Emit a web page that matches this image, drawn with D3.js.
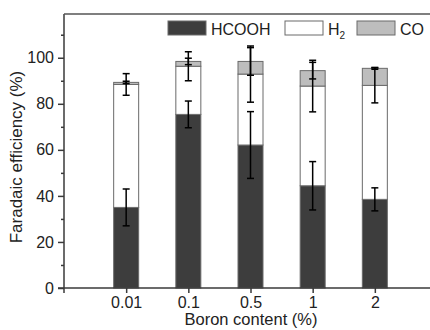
<!DOCTYPE html>
<html>
<head>
<meta charset="utf-8">
<script src="https://cdn.jsdelivr.net/npm/d3@7"></script>
<style>
body { margin: 0; background: #fff; }
svg { font-family: "Liberation Sans", Arial, sans-serif; }
</style>
</head>
<body>
<div class="visual"></div>
<script>
// data
const categories = ["0.01", "0.1", "0.5", "1", "2"];
const hcooh = [35.0, 75.4, 62.1, 44.4, 38.5];
const h2 = [53.4, 20.9, 30.8, 43.3, 49.5];
const co = [0.9, 2.1, 5.5, 6.7, 7.4];
const hcoohErr = [8.0, 5.8, 14.5, 10.5, 5.0];
const h2Err = [4.7, 6.3, 12.2, 11.2, 7.6];
const coErr = [0.5, 1.4, 6.0, 3.6, 0.4];
const yTicks = [0, 20, 40, 60, 80, 100];
const seriesNames = ["HCOOH", "H2", "CO"];

const width = 430, height = 330;
const margin = {top: 14, left: 64, bottom: 42};
const plotRight = 437;

const svg = d3.select(".visual").append("svg")
  .attr("width", width).attr("height", height);

const x = d3.scalePoint().domain(categories).range([margin.left, plotRight]).padding(1);
const y = d3.scaleLinear().domain([0, 119]).range([height - margin.bottom, margin.top]);

const colors = {HCOOH: "#3d3d3d", H2: "#ffffff", CO: "#bdbdbd"};
const barW = 25;

// stacked data
const rows = categories.map((c, i) => ({cat: c, HCOOH: hcooh[i], H2: h2[i], CO: co[i]}));
const stack = d3.stack().keys(seriesNames)(rows);
const errs = {HCOOH: hcoohErr, H2: h2Err, CO: coErr};

const layers = svg.selectAll(".layer").data(stack).enter().append("g")
  .attr("class", "layer")
  .attr("fill", d => colors[d.key]);

layers.selectAll("rect").data(d => d).enter().append("rect")
  .attr("x", d => x(d.data.cat) - barW / 2)
  .attr("width", barW)
  .attr("y", d => y(d[1]))
  .attr("height", d => y(d[0]) - y(d[1]))
  .attr("stroke", "#6a6a6a")
  .attr("stroke-width", 1);

// error bars
stack.forEach(layer => {
  const g = svg.append("g").attr("stroke", "#000").attr("stroke-width", 1.5);
  layer.forEach((d, i) => {
    const cx = x(d.data.cat), e = errs[layer.key][i];
    const lo = y(d[1] - e), hi = y(d[1] + e);
    g.append("line").attr("x1", cx).attr("x2", cx).attr("y1", lo).attr("y2", hi);
    g.append("line").attr("x1", cx - 3.5).attr("x2", cx + 3.5).attr("y1", lo).attr("y2", lo);
    g.append("line").attr("x1", cx - 3.5).attr("x2", cx + 3.5).attr("y1", hi).attr("y2", hi);
  });
});

// axes
const axisColor = "#3a3a3a";
const yAxis = svg.append("g")
  .attr("transform", "translate(" + margin.left + ",0)")
  .call(d3.axisLeft(y).tickValues(yTicks).tickSize(6).tickSizeOuter(0).tickPadding(4));
const yMinor = svg.append("g")
  .attr("transform", "translate(" + margin.left + ",0)")
  .call(d3.axisLeft(y).tickValues(d3.range(10, 120, 20)).tickSize(3).tickFormat("").tickSizeOuter(0));
yMinor.select(".domain").remove();

const xAxis = svg.append("g")
  .attr("transform", "translate(0," + y(0) + ")")
  .call(d3.axisBottom(x).tickSize(5).tickSizeOuter(0).tickPadding(4));
xAxis.select(".domain").attr("d", "M" + (margin.left - 6) + ",0H" + plotRight);

[yAxis, yMinor, xAxis].forEach(a => {
  a.selectAll("line").attr("stroke", axisColor).attr("stroke-width", 1.5);
  a.selectAll(".domain").attr("stroke", axisColor).attr("stroke-width", 1.5);
  a.selectAll("text").attr("font-size", 16).attr("fill", "#222")
    .attr("font-family", "'Liberation Sans', Arial, sans-serif");
});
yAxis.select(".domain").attr("d", "M0," + (y(0) + 5) + "V" + margin.top);

// top frame line
svg.append("line")
  .attr("x1", margin.left).attr("x2", plotRight)
  .attr("y1", margin.top).attr("y2", margin.top)
  .attr("stroke", "#555").attr("stroke-width", 1.5);

// axis titles
svg.append("text")
  .attr("x", (margin.left + width) / 2 + 4)
  .attr("y", 325)
  .attr("text-anchor", "middle")
  .attr("font-size", 16.5).attr("fill", "#222")
  .text("Boron content (%)");

svg.append("text")
  .attr("transform", "rotate(-90)")
  .attr("x", -157).attr("y", 22)
  .attr("text-anchor", "middle")
  .attr("font-size", 17).attr("fill", "#222")
  .text("Faradaic efficiency (%)");

// legend
const legendItems = [
  {key: "HCOOH", x: 168},
  {key: "H2", x: 285},
  {key: "CO", x: 357}
];
const legend = svg.selectAll(".legend").data(legendItems).enter().append("g")
  .attr("class", "legend")
  .attr("transform", d => "translate(" + d.x + ",21)");
legend.append("rect")
  .attr("width", 38).attr("height", 14)
  .attr("fill", d => colors[d.key])
  .attr("stroke", "#6a6a6a").attr("stroke-width", 1);
const lt = legend.append("text")
  .attr("x", 43).attr("y", 13.5)
  .attr("font-size", 16).attr("fill", "#222");
lt.each(function(d) {
  const t = d3.select(this);
  if (d.key === "H2") {
    t.append("tspan").text("H");
    t.append("tspan").attr("font-size", 10).attr("dy", 4).text("2");
  } else {
    t.text(d.key);
  }
});
</script>
</body>
</html>
